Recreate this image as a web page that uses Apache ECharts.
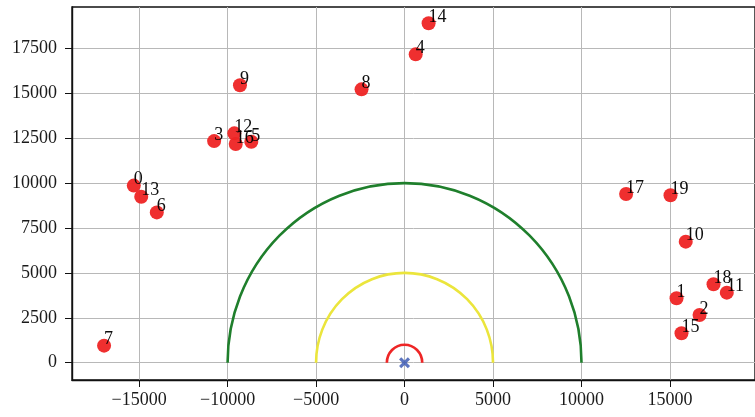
<!DOCTYPE html>
<html>
<head>
<meta charset="utf-8">
<script src="https://cdn.jsdelivr.net/npm/echarts@6/dist/echarts.min.js"></script>
<style>
  html, body { margin: 0; padding: 0; background: #fff; }
  #main { width: 755px; height: 417px; }
</style>
</head>
<body>
<div id="main"></div>
<script>
// point data
var pointIds = [0, 1, 2, 3, 4, 5, 6, 7, 8, 9, 10, 11, 12, 13, 14, 15, 16, 17, 18, 19];
var pointX = [-15300, 15370, 16670, -10760, 630, -8660, -14000, -16980, -2430, -9300,
              15890, 18210, -9620, -14880, 1360, 15650, -9540, 12520, 17460, 15030];
var pointY = [9860, 3590, 2660, 12340, 17170, 12300, 8370, 950, 15220, 15450,
              6740, 3900, 12770, 9240, 18900, 1640, 12180, 9390, 4370, 9320];

// rings around the origin
var ringRadius = [1000, 5000, 10000];
var ringColor = ['#ee2626', '#ebe53c', '#1f7f2c'];

var xTicks = [-15000, -10000, -5000, 0, 5000, 10000, 15000];
var yTicks = [0, 2500, 5000, 7500, 10000, 12500, 15000, 17500];

var FONT = '"Liberation Serif", "DejaVu Serif", serif';

function fmt(v) {
  return v < 0 ? '\u2212' + Math.abs(v) : String(v);
}

var scatterData = pointIds.map(function (id, i) {
  return { value: [pointX[i], pointY[i]], name: String(id) };
});

var ringData = ringRadius.map(function (r, i) {
  return { value: [0, 0, r], itemStyle: { color: ringColor[i] } };
});

var myChart = echarts.init(document.getElementById('main'));
myChart.setOption({
  animation: false,
  grid: {
    left: 72, right: -4, top: 7, bottom: 37,
    show: true, borderColor: '#111', borderWidth: 1.4
  },
  xAxis: {
    type: 'value',
    min: -18792, max: 19804,
    axisLine: { show: true, onZero: false, lineStyle: { color: '#111', width: 1.4 } },
    axisTick: { show: true, length: 7, customValues: xTicks, lineStyle: { color: '#111' } },
    axisLabel: {
      customValues: xTicks, formatter: fmt, margin: 11,
      fontFamily: FONT, fontSize: 18, color: '#1a1a1a'
    },
    splitLine: { show: true, lineStyle: { color: '#b8b8b8', width: 1 } }
  },
  yAxis: {
    type: 'value',
    min: -963, max: 19806,
    axisLine: { show: true, onZero: false, lineStyle: { color: '#111', width: 1.4 } },
    axisTick: { show: true, length: 7, customValues: yTicks, lineStyle: { color: '#111' } },
    axisLabel: {
      customValues: yTicks, formatter: fmt, margin: 15,
      fontFamily: FONT, fontSize: 18, color: '#1a1a1a'
    },
    splitLine: { show: true, lineStyle: { color: '#b8b8b8', width: 1 } }
  },
  series: [
    {
      type: 'custom',
      data: ringData,
      renderItem: function (params, api) {
        var r = api.value(2);
        var c = api.coord([0, 0]);
        var left = api.coord([-r, 0]);
        var right = api.coord([r, 0]);
        var top = api.coord([0, r]);
        var rx = right[0] - c[0];
        var ry = c[1] - top[1];
        return {
          type: 'path',
          shape: {
            pathData: 'M' + left[0] + ' ' + left[1] +
              ' A' + rx + ' ' + ry + ' 0 0 1 ' + right[0] + ' ' + right[1]
          },
          style: { fill: null, stroke: api.visual('color'), lineWidth: 2.6 }
        };
      },
      z: 2
    },
    {
      type: 'scatter',
      data: [[0, 0]],
      symbol: 'path://M2,0 L5,3 L8,0 L10,2 L7,5 L10,8 L8,10 L5,7 L2,10 L0,8 L3,5 L0,2 Z',
      symbolSize: 11,
      itemStyle: { color: '#3352b0' },
      z: 3
    },
    {
      type: 'scatter',
      data: scatterData,
      symbolSize: 14,
      itemStyle: { color: '#ee2424', opacity: 0.95 },
      label: {
        show: true,
        formatter: function (p) { return p.name; },
        position: [7, 7],
        align: 'left',
        verticalAlign: 'bottom',
        offset: [0, 3],
        fontFamily: FONT, fontSize: 18, color: '#000'
      },
      z: 4
    }
  ]
});
</script>
</body>
</html>
